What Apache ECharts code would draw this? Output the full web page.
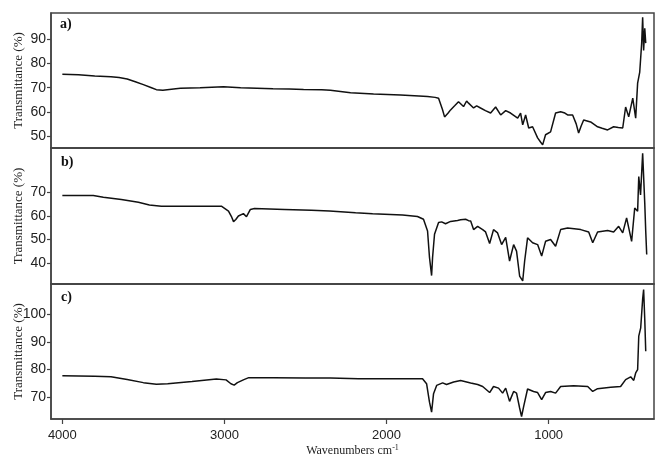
<!DOCTYPE html>
<html><head><meta charset="utf-8">
<script src="https://cdn.jsdelivr.net/npm/echarts@6/dist/echarts.min.js"></script>
<style>html,body{margin:0;padding:0;background:#fff}#c{width:655px;height:456px}</style>
</head><body><div id="c"></div>
<script>
// ---- data ----
const wnA = [4000,3900,3800,3700,3650,3600,3550,3500,3450,3420,3380,3300,3272,3150,3006,2900,2800,2700,2600,2512,2400,2346,2222,2080,1914,1800,1747,1700,1679,1667,1655,1642,1620,1605,1580,1556,1525,1506,1494,1463,1444,1420,1390,1358,1327,1296,1265,1235,1191,1173,1160,1142,1123,1099,1068,1050,1037,1019,988,957,926,900,883,852,830,815,800,784,741,698,670,636,599,570,543,525,506,481,463,451,438,426,420,414,407,401];
const tA = [75.6,75.4,74.9,74.6,74.2,73.6,72.5,71.3,70.0,69.2,69.0,69.6,69.8,70.0,70.4,70.0,69.8,69.6,69.5,69.3,69.2,69.0,67.9,67.4,67.0,66.6,66.4,66.0,65.6,64.9,61.0,57.9,59.5,60.8,62.5,64.2,62.2,64.5,63.6,61.6,62.5,61.6,60.5,59.5,62.0,58.7,60.5,59.5,57.4,59.5,54.6,58.7,53.3,53.8,49.2,47.5,46.3,50.5,51.7,59.5,60.0,59.5,58.7,58.7,55.0,51.2,54.0,56.6,55.8,53.8,53.2,52.5,53.8,53.5,53.3,62.0,57.9,65.7,57.4,71.9,76.5,88.5,99.2,85.5,94.7,88.5];

const wnB = [4000,3900,3809,3747,3636,3531,3463,3389,3200,3019,2975,2955,2944,2930,2914,2883,2864,2840,2815,2630,2463,2352,2191,2086,1901,1809,1772,1747,1735,1722,1716,1704,1679,1660,1636,1605,1562,1543,1512,1494,1481,1463,1438,1407,1389,1364,1340,1315,1290,1265,1241,1216,1198,1179,1160,1148,1130,1099,1068,1043,1019,988,957,926,883,802,753,728,698,636,599,568,543,519,488,469,451,444,433,420,407,401,395];
const tB = [68.7,68.7,68.7,68.0,67.0,65.9,64.7,64.2,64.2,64.2,62.1,59.5,57.6,58.5,60.0,61.0,59.7,62.8,63.2,62.8,62.4,62.1,61.4,61.0,60.4,59.8,58.6,53.6,42.3,34.6,42.3,52.2,57.2,57.5,56.7,57.7,58.1,58.4,58.6,58.0,57.9,54.2,55.6,54.2,53.2,48.3,54.2,52.8,47.8,50.9,40.8,47.8,45.0,34.4,32.3,40.8,50.7,48.6,47.8,42.9,49.2,50.0,47.1,54.2,54.9,54.2,53.2,48.6,53.2,53.8,53.2,55.6,52.8,59.2,49.2,63.4,62.0,76.8,69.0,86.7,65.5,53.5,43.6];

const wnC = [4000,3900,3800,3700,3600,3500,3420,3350,3200,3050,2990,2960,2940,2920,2880,2850,2700,2500,2346,2173,1778,1753,1735,1722,1710,1691,1654,1630,1586,1543,1531,1481,1469,1438,1407,1364,1340,1309,1284,1265,1241,1216,1198,1179,1167,1154,1130,1093,1068,1043,1019,988,957,926,846,759,728,698,617,556,525,494,475,463,451,444,432,420,414,407,401];
const tC = [77.7,77.6,77.5,77.3,76.3,75.2,74.6,74.8,75.6,76.5,76.2,74.8,74.3,75.2,76.3,77.0,77.0,76.9,76.9,76.6,76.6,74.8,68.1,64.5,71.2,74.2,75.1,74.5,75.4,76.0,75.8,75.1,74.8,74.5,73.8,71.6,73.8,73.2,71.4,73.2,68.4,72.0,71.4,66.0,62.9,66.6,72.9,72.0,71.6,69.0,71.6,72.0,71.4,73.8,74.1,73.8,72.0,73.0,73.5,73.8,76.3,77.3,76.0,78.7,79.9,92.1,95.1,105.5,109.0,98.2,86.6];

const xTicks = [1000,2000,3000,4000];
const yTicksA = [50,60,70,80,90];
const yTicksB = [40,50,60,70];
const yTicksC = [70,80,90,100];
const panelLabels = ['a)','b)','c)'];
const yName = 'Transmittance (%)';
const xName = 'Wavenumbers cm';

// ---- chart ----
const zip = (w,t) => w.map((v,i)=>[v,t[i]]);
const border = '#444';
const grids = [
  {left:51,right:1,top:13,height:135},
  {left:51,right:1,top:148,height:136},
  {left:51,right:1,top:284,height:135}
].map(g=>Object.assign(g,{show:true,borderColor:border,borderWidth:1.5,backgroundColor:'transparent',outerBoundsMode:'none',containLabel:false}));

const fmt = v => String(v);
function xAx(i, last){
  return {type:'value', gridIndex:i, min:350, max:4070, inverse:true,
    axisLine:{show:true,lineStyle:{color:border,width:1.5}},
    axisTick:{show:last, length:5, inside:false, customValues:xTicks, lineStyle:{color:border,width:1.2}},
    axisLabel:{show:last, margin:10, customValues:xTicks, formatter:fmt,
      fontFamily:'"Liberation Sans", Arial, sans-serif', fontSize:13, color:'#222'},
    splitLine:{show:false},
    name: last ? xName+'{sup|-1}' : '', nameLocation:'middle', nameGap:25, nameMoveOverlap:false,
    nameTextStyle:{fontFamily:'"Liberation Serif","Times New Roman",serif', fontSize:12, color:'#222',
      rich:{sup:{fontFamily:'"Liberation Serif",serif', fontSize:8, color:'#222', verticalAlign:'top', padding:[0,0,6,0]}}}
  };
}
function yAx(i, mn, mx, ticks){
  return {type:'value', gridIndex:i, min:mn, max:mx,
    axisLine:{show:true,lineStyle:{color:border,width:1.5}},
    axisTick:{show:true, length:4, customValues:ticks, lineStyle:{color:border,width:1.2}},
    axisLabel:{margin:5, customValues:ticks, formatter:fmt,
      fontFamily:'"Liberation Sans", Arial, sans-serif', fontSize:14, color:'#222'},
    splitLine:{show:false},
    name:yName, nameLocation:'middle', nameGap:26, nameRotate:90, nameMoveOverlap:false,
    nameTextStyle:{fontFamily:'"Liberation Serif","Times New Roman",serif', fontSize:13, color:'#222'}
  };
}
const lineS = (i,d)=>({type:'line', xAxisIndex:i, yAxisIndex:i, data:d, showSymbol:false, symbol:'none',
  lineStyle:{color:'#111', width:1.5}, silent:true, animation:false});

const chart = echarts.init(document.getElementById('c'), null, {renderer:'canvas'});
chart.setOption({
  animation:false,
  backgroundColor:'#fff',
  grid:grids,
  xAxis:[xAx(0,false), xAx(1,false), xAx(2,true)],
  yAxis:[yAx(0,45,101,yTicksA), yAx(1,31,89,yTicksB), yAx(2,62,111,yTicksC)],
  series:[lineS(0,zip(wnA,tA)), lineS(1,zip(wnB,tB)), lineS(2,zip(wnC,tC))],
  graphic:[
    {type:'text', left:60, top:17, style:{text:panelLabels[0], font:'bold 14px "Liberation Serif", serif', fill:'#111'}},
    {type:'text', left:61, top:155, style:{text:panelLabels[1], font:'bold 14px "Liberation Serif", serif', fill:'#111'}},
    {type:'text', left:61, top:290, style:{text:panelLabels[2], font:'bold 14px "Liberation Serif", serif', fill:'#111'}}
  ]
});
</script></body></html>
